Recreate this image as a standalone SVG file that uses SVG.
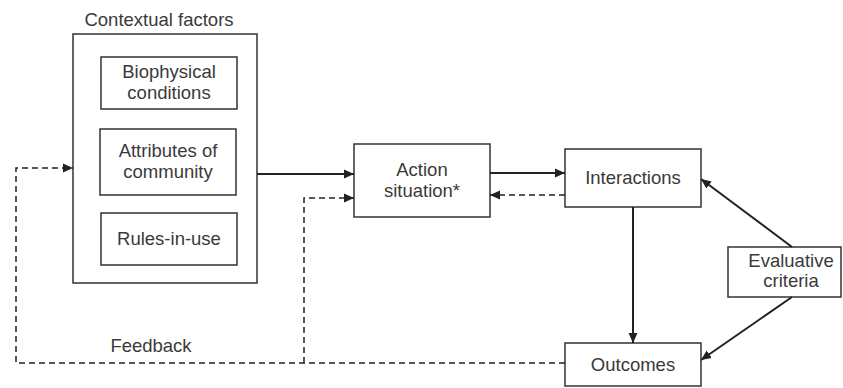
<svg xmlns="http://www.w3.org/2000/svg" width="843" height="388" viewBox="0 0 843 388">
<defs>
<marker id="ah" viewBox="0 0 10 10" refX="10" refY="5" markerWidth="10" markerHeight="10" markerUnits="userSpaceOnUse" orient="auto">
<path d="M0,0.5 L10,5 L0,9.5 Z" fill="#222"/>
</marker>
</defs>
<style>
.box{fill:#fff;stroke:#333;stroke-width:1.5}
.t{font-family:"Liberation Sans",Arial,sans-serif;font-size:18.5px;fill:#3a3a3a;text-anchor:middle}
.c{fill:none;stroke:#222;stroke-width:2}
.d{fill:none;stroke:#222;stroke-width:1.5;stroke-dasharray:6,4}
</style>
<rect width="843" height="388" fill="#fff"/>
<g id="contextual-factors">
<text class="t" x="159" y="26">Contextual factors</text>
<rect class="box" x="73" y="34" width="184" height="249"/>
</g>
<g id="biophysical">
<rect class="box" x="101" y="57" width="136" height="52"/>
<text class="t" x="169" y="78">Biophysical</text>
<text class="t" x="169" y="99">conditions</text>
</g>
<g id="attributes">
<rect class="box" x="100" y="129" width="136" height="66"/>
<text class="t" x="168" y="157">Attributes of</text>
<text class="t" x="168" y="178">community</text>
</g>
<g id="rules">
<rect class="box" x="101" y="213" width="136" height="52"/>
<text class="t" x="169" y="245">Rules-in-use</text>
</g>
<g id="action-situation">
<rect class="box" x="354" y="144" width="136" height="73"/>
<text class="t" x="422" y="176">Action</text>
<text class="t" x="422" y="197">situation*</text>
</g>
<g id="interactions">
<rect class="box" x="565" y="149" width="136" height="58"/>
<text class="t" x="633" y="184">Interactions</text>
</g>
<g id="evaluative-criteria">
<rect class="box" x="728" y="247" width="113" height="50"/>
<text class="t" x="791" y="267">Evaluative</text>
<text class="t" x="791" y="287">criteria</text>
</g>
<g id="outcomes">
<rect class="box" x="565" y="343" width="136" height="43"/>
<text class="t" x="633" y="371">Outcomes</text>
</g>
<g id="connectors">
<line class="c" x1="257" y1="174" x2="354" y2="174" marker-end="url(#ah)"/>
<line class="c" x1="490" y1="173" x2="565" y2="173" marker-end="url(#ah)"/>
<line class="d" x1="565" y1="195" x2="490" y2="195" marker-end="url(#ah)"/>
<line class="c" x1="633" y1="207" x2="633" y2="343" marker-end="url(#ah)"/>
<line class="c" x1="792" y1="247" x2="701" y2="179" marker-end="url(#ah)"/>
<line class="c" x1="792" y1="297" x2="701" y2="360" marker-end="url(#ah)"/>
<polyline class="d" points="565,363 16,363 16,168 73,168" marker-end="url(#ah)"/>
<polyline class="d" points="304,363 304,198 354,198" marker-end="url(#ah)"/>
<text class="t" x="151" y="352">Feedback</text>
</g>
</svg>
